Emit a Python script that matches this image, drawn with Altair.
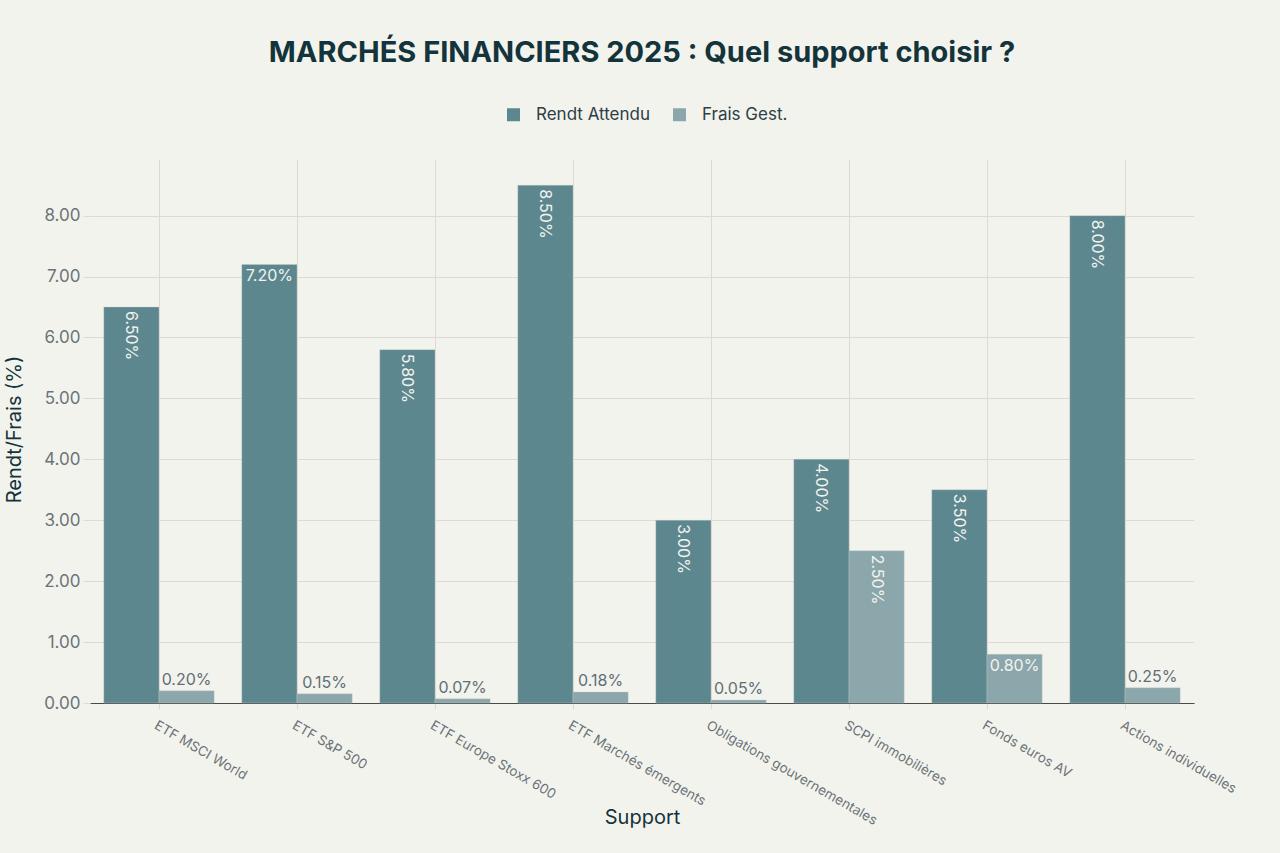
import altair as alt
import pandas as pd

categories = [
    "ETF MSCI World",
    "ETF S&P 500",
    "ETF Europe Stoxx 600",
    "ETF Marchés émergents",
    "Obligations gouvernementales",
    "SCPI immobilières",
    "Fonds euros AV",
    "Actions individuelles",
]
rendement = [6.50, 7.20, 5.80, 8.50, 3.00, 4.00, 3.50, 8.00]
frais = [0.20, 0.15, 0.07, 0.18, 0.05, 2.50, 0.80, 0.25]
series = ["Rendt Attendu", "Frais Gest."]
colors = ["#5D878F", "#8BA7AB"]
y_ticks = [0, 1, 2, 3, 4, 5, 6, 7, 8]

rows = []
for c, r, f in zip(categories, rendement, frais):
    rows.append({"Support": c, "Serie": series[0], "Valeur": r})
    rows.append({"Support": c, "Serie": series[1], "Valeur": f})
df = pd.DataFrame(rows)

FONT = "Inter"
GRID = "#DEDAD3"

x_enc = alt.X(
    "Support:N",
    sort=categories,
    scale=alt.Scale(paddingInner=0, paddingOuter=0),
    axis=alt.Axis(
        title="Support",
        titleFontSize=20,
        titleFontWeight="normal",
        titleColor="#13343B",
        titleY=114,
        titleBaseline="middle",
        labelAngle=30,
        labelAlign="left",
        labelBaseline="top",
        labelPadding=9,
        labelFontSize=13.5,
        labelColor="#6B7378",
        labelLimit=0,
        grid=True,
        gridColor=GRID,
        tickBand="center",
        tickColor=GRID,
        tickSize=6,
        domainColor="#4A4A4A",
        domainWidth=1.2,
    ),
)
xoff_enc = alt.XOffset(
    "Serie:N", sort=series, scale=alt.Scale(paddingOuter=0.25, paddingInner=0)
)
y_enc = alt.Y(
    "Valeur:Q",
    scale=alt.Scale(domain=[0, 8.93], nice=False),
    axis=alt.Axis(
        title="Rendt/Frais (%)",
        titleFontSize=20,
        titleFontWeight="normal",
        titleColor="#13343B",
        titleAngle=-90,
        titleX=-76,
        titleY=270,
        titleAlign="center",
        titleBaseline="middle",
        values=y_ticks,
        format=".2f",
        labelFontSize=17,
        labelColor="#6B7378",
        labelPadding=3,
        grid=True,
        gridColor=GRID,
        domain=False,
        tickColor=GRID,
        tickSize=7,
    ),
)

base = alt.Chart(df).encode(x=x_enc, xOffset=xoff_enc, y=y_enc)

bars = base.mark_bar(stroke="#C9CFCC", strokeWidth=0.6, strokeOpacity=0.6).encode(
    color=alt.Color(
        "Serie:N",
        sort=series,
        scale=alt.Scale(domain=series, range=colors),
        legend=alt.Legend(
            title=None,
            orient="none",
            legendX=415,
            legendY=-53,
            direction="horizontal",
            symbolType="square",
            symbolSize=169,
            symbolStrokeWidth=0,
            symbolOpacity=1,
            labelFontSize=17,
            labelColor="#2D3E44",
            labelOffset=14,
            columnPadding=20,
            padding=0,
        ),
    )
)

labelled = base.transform_calculate(
    label="format(datum.Valeur, '.2f') + '%'"
).transform_calculate(
    pos="datum.Valeur < 0.5 ? 'out' : ((datum.label == '7.20%' || datum.label == '0.80%') ? 'h' : 'v')"
)

txt_v = labelled.transform_filter("datum.pos == 'v'").mark_text(
    angle=90, align="left", baseline="middle", dx=4, fontSize=16, color="#F3F3EE", font=FONT
).encode(text="label:N")
txt_h = labelled.transform_filter("datum.pos == 'h'").mark_text(
    align="center", baseline="top", dy=4, fontSize=16, color="#F3F3EE", font=FONT
).encode(text="label:N")
txt_o = labelled.transform_filter("datum.pos == 'out'").mark_text(
    align="center", baseline="bottom", dy=-3, fontSize=16, color="#5F6F75", font=FONT
).encode(text="label:N")

chart = (
    alt.layer(bars, txt_v, txt_h, txt_o)
    .properties(
        width=1104,
        height=544,
        autosize=alt.AutoSizeParams(type="none"),
        padding={"left": 90, "top": 159, "right": 86, "bottom": 150},
        background="#F3F3EE",
        title=alt.TitleParams(
            "MARCHÉS FINANCIERS 2025 : Quel support choisir ?",
            fontSize=29,
            fontWeight="bold",
            color="#13343B",
            anchor="middle",
            offset=38,
            font=FONT,
        ),
    )
    .configure(font=FONT, style={"cell": {"stroke": "transparent", "strokeWidth": 0}})
    .configure_view(strokeWidth=0, stroke="#FF0000", strokeOpacity=0)
)

chart.save("out.html", embed_options={"renderer": "svg", "actions": False})
